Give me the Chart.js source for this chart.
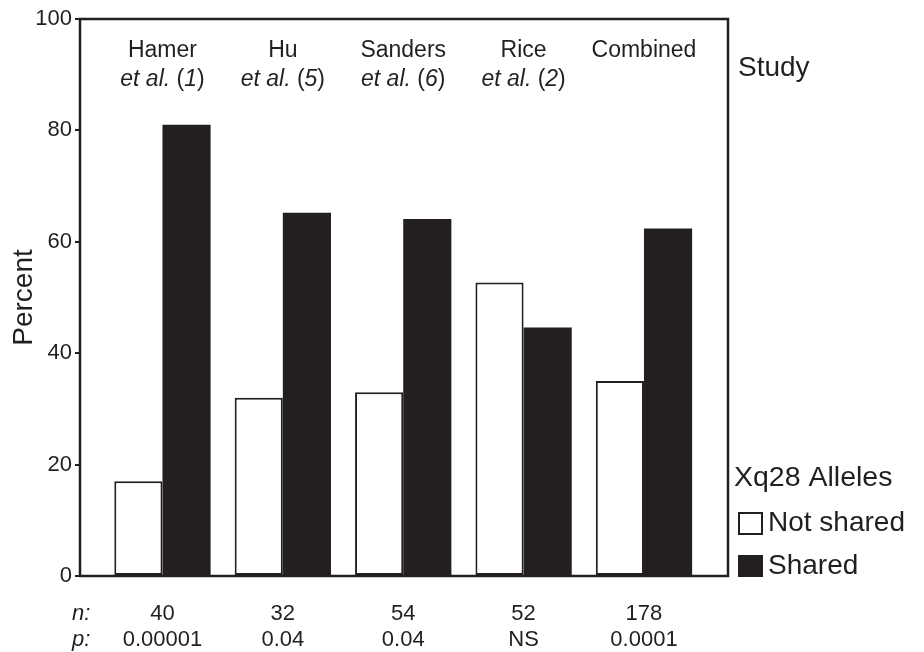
<!DOCTYPE html>
<html>
<head>
<meta charset="utf-8">
<script src="https://cdn.jsdelivr.net/npm/chart.js@4.4.1/dist/chart.umd.min.js"></script>
<style>
html,body{margin:0;padding:0;background:#fff;}
canvas{display:block;}
</style>
</head>
<body>
<canvas id="c" width="924" height="652"></canvas>
<script>
// ---- Data ----
const studyNames = ['Hamer', 'Hu', 'Sanders', 'Rice', 'Combined'];
const studyRefs = ['1', '5', '6', '2', ''];
const notShared = [17, 32, 33, 52.7, 35];
const shared = [81, 65.2, 64.1, 44.6, 62.4];
const nValues = ['40', '32', '54', '52', '178'];
const pValues = ['0.00001', '0.04', '0.04', 'NS', '0.0001'];
const yTicks = [0, 20, 40, 60, 80, 100];
const seriesNames = ['Not shared', 'Shared'];

const INK = '#231f20';
const FONT = '"Liberation Sans", Arial, Helvetica, sans-serif';

const decorations = {
  id: 'decorations',
  afterDatasetsDraw(chart) {
    const ctx = chart.ctx;
    const a = chart.chartArea;
    const xs = chart.scales.x;
    ctx.save();
    // frame
    ctx.strokeStyle = INK;
    ctx.lineWidth = 2.5;
    ctx.strokeRect(a.left, a.top, a.right - a.left, a.bottom - a.top);
    ctx.fillStyle = INK;
    ctx.textBaseline = 'middle';
    // study headers
    studyNames.forEach((name, i) => {
      const cx = xs.getPixelForValue(i);
      ctx.font = '23px ' + FONT;
      ctx.textAlign = 'center';
      ctx.fillText(name, cx, 51);
      if (studyRefs[i]) {
        const parts = [
          ['italic', 'et al. '],
          ['normal', '('],
          ['italic', studyRefs[i]],
          ['normal', ')']
        ];
        let total = 0;
        parts.forEach(p => { ctx.font = p[0] + ' 23px ' + FONT; total += ctx.measureText(p[1]).width; });
        let x = cx - total / 2;
        ctx.textAlign = 'left';
        parts.forEach(p => {
          ctx.font = p[0] + ' 23px ' + FONT;
          ctx.fillText(p[1], x, 80);
          x += ctx.measureText(p[1]).width;
        });
      }
    });
    // Study label
    ctx.textAlign = 'left';
    ctx.font = '28px ' + FONT;
    ctx.fillText('Study', 738, 68);
    // legend
    ctx.font = '28.5px ' + FONT;
    ctx.fillText('Xq28 Alleles', 734, 478);
    ctx.lineWidth = 2;
    ctx.fillStyle = '#fff';
    ctx.fillRect(739, 513, 23, 21);
    ctx.strokeRect(739, 513, 23, 21);
    ctx.fillStyle = INK;
    ctx.fillRect(738, 555, 25, 22);
    ctx.font = '28px ' + FONT;
    ctx.fillText(seriesNames[0], 768, 523);
    ctx.fillText(seriesNames[1], 768, 566);
    // n: p: labels
    ctx.font = 'italic 22px ' + FONT;
    ctx.fillText('n:', 72, 614);
    ctx.fillText('p:', 72, 640);
    ctx.restore();
  }
};

new Chart(document.getElementById('c'), {
  type: 'bar',
  data: {
    datasets: [
      {
        label: seriesNames[0],
        data: notShared.map((v, i) => ({ x: i, y: v })),
        backgroundColor: '#ffffff',
        borderColor: INK,
        borderWidth: 2,
        borderSkipped: false,
        categoryPercentage: 0.8,
        barPercentage: 1.0
      },
      {
        label: seriesNames[1],
        data: shared.map((v, i) => ({ x: i, y: v })),
        backgroundColor: INK,
        borderWidth: 0,
        categoryPercentage: 0.8,
        barPercentage: 1.0
      }
    ]
  },
  options: {
    responsive: false,
    animation: false,
    devicePixelRatio: 1,
    layout: { padding: { top: 19, right: 196, bottom: 0, left: 0 } },
    plugins: { legend: { display: false }, tooltip: { enabled: false } },
    scales: {
      x: {
        type: 'linear',
        offset: false,
        min: -0.685,
        max: 4.698,
        grid: { display: false, drawTicks: false },
        border: { display: false },
        afterBuildTicks(scale) { scale.ticks = studyNames.map((_, i) => ({ value: i })); },
        afterFit(scale) { scale.height = 76; },
        ticks: {
          autoSkip: false,
          maxRotation: 0,
          padding: 25,
          color: INK,
          font: { family: FONT, size: 22, lineHeight: 1.18 },
          callback: (value, index) => [nValues[index], pValues[index]]
        }
      },
      y: {
        min: 0,
        max: 100,
        afterBuildTicks(scale) { scale.ticks = yTicks.map(v => ({ value: v })); },
        afterFit(scale) { scale.width = 80; },
        grid: { drawOnChartArea: false, drawTicks: true, tickLength: 5, color: INK, lineWidth: 2 },
        border: { display: false },
        ticks: {
          padding: 3,
          color: INK,
          font: { family: FONT, size: 22 }
        },
        title: {
          display: true,
          text: 'Percent',
          color: INK,
          font: { family: FONT, size: 28, lineHeight: 1.2 },
          padding: { top: 7, bottom: 0 }
        }
      }
    }
  },
  plugins: [decorations]
});
</script>
</body>
</html>
